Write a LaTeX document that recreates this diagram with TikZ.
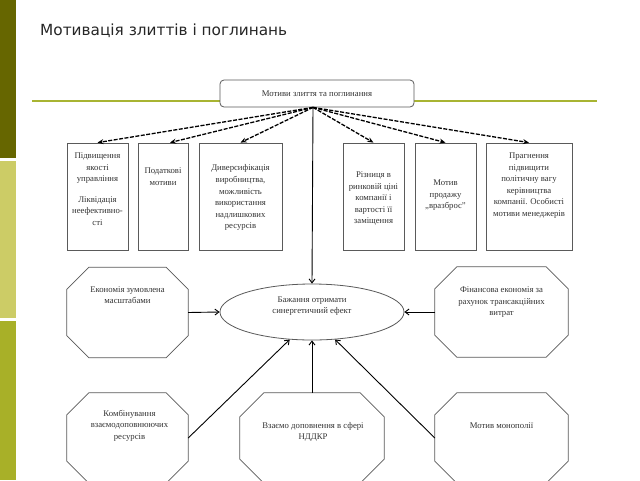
\documentclass[tikz,border=0pt]{standalone}
\usepackage{fontspec}
\setmainfont{Liberation Serif}
\newfontfamily\titlefont{DejaVu Sans}
\usetikzlibrary{arrows.meta,calc,shapes.geometric}
\definecolor{barA}{RGB}{102,102,0}
\definecolor{barB}{RGB}{204,204,102}
\definecolor{barC}{RGB}{168,176,40}
\definecolor{hcol}{RGB}{168,180,50}
\definecolor{edge}{RGB}{90,90,90}
\newcommand\octa[2]{%
  \draw[octline] ($(#1.north west)+(#2,0)$) -- ($(#1.north east)+(-#2,0)$)
   -- ($(#1.north east)+(0,-#2)$) -- ($(#1.south east)+(0,#2)$)
   -- ($(#1.south east)+(-#2,0)$) -- ($(#1.south west)+(#2,0)$)
   -- ($(#1.south west)+(0,#2)$) -- ($(#1.north west)+(0,-#2)$) -- cycle;}
\begin{document}
\begin{tikzpicture}[x=1pt,y=-1pt,
  boxst/.style={draw=edge, line width=0.8pt, fill=white, minimum height=107pt, inner sep=0pt},
  txt/.style={font=\fontsize{8.7}{11.6}\selectfont, align=center, inner sep=0pt, anchor=north, text=black!80},
  topbox/.style={draw=edge, line width=0.8pt, fill=white, rounded corners=4pt, minimum width=194pt, minimum height=27pt, inner sep=0pt, font=\fontsize{8.7}{10}\selectfont, text=black!80},
  octnode/.style={inner sep=0pt, minimum height=90pt},
  octline/.style={draw=edge, line width=0.8pt},
  ellst/.style={ellipse, draw=edge, line width=0.8pt, minimum width=184pt, minimum height=56pt, inner sep=0pt, align=center, font=\fontsize{8.7}{11.6}\selectfont, text=black!80},
  dasharrow/.style={draw=black, line width=1.3pt, dash pattern=on 4pt off 1.5pt, -{Stealth[length=6pt,width=5pt]}},
  solidarrow/.style={draw=black, line width=0.9pt, -{Straight Barb[length=4pt,width=6pt]}},
  hline/.style={draw=hcol, line width=1.8pt}
]
\useasboundingbox (0,0) rectangle (640,480);
\clip (0,0) rectangle (640,480);
\fill[white] (0,0) rectangle (640,480);
% left bar
\fill[barA] (0,0) rectangle (16,158);
\fill[barB] (0,161) rectangle (16,318);
\fill[barC] (0,321) rectangle (16,480);
% title
\node[anchor=base west, inner sep=0pt, font=\titlefont\fontsize{15.3}{18}\selectfont, text=black!85] (title) at (40,35.5) {Мотивація злиттів і поглинань};
% horizontal rule
\draw[hline] (32,101) -- (597,101);
% top box
\node[topbox] (top) at (317,93.5) {Мотиви злиття та поглинання};
\coordinate (hub) at ($(top.south)+(-4pt,0)$);
% motive boxes
\node[boxst, minimum width=61pt] (b1) at (97.5,196.5) {};
\node[boxst, minimum width=50pt] (b2) at (163,196.5) {};
\node[boxst, minimum width=83pt] (b3) at (240.5,196.5) {};
\node[boxst, minimum width=61pt] (b4) at (373.5,196.5) {};
\node[boxst, minimum width=61pt] (b5) at (445.5,196.5) {};
\node[boxst, minimum width=86pt] (b6) at (529,196.5) {};
\node[txt] (t1) at ($(b1.north)+(0,-10pt)$) {Підвищення\\якості\\управління\\[9pt]Ліквідація\\неефективно-\\сті};
\node[txt] (t2) at ($(b2.north)+(0,-25pt)$) {Податкові\\мотиви};
\node[txt] (t3) at ($(b3.north)+(0,-22pt)$) {Диверсифікація\\виробництва,\\можливість\\використання\\надлишкових\\ресурсів};
\node[txt] (t4) at ($(b4.north)+(0,-29pt)$) {Різниця в\\ринковій ціні\\компанії і\\вартості її\\заміщення};
\node[txt] (t5) at ($(b5.north)+(0,-37pt)$) {Мотив\\продажу\\„вразброс”};
\node[txt] (t6) at ($(b6.north)+(0,-10pt)$) {Прагнення\\підвищити\\політичну вагу\\керівництва\\компанії. Особисті\\мотиви менеджерів};
% dashed arrows
\draw[dasharrow] (hub) -- (b1.north);
\draw[dasharrow] (hub) -- ($(b2.north)+(7pt,0)$);
\draw[dasharrow] (hub) -- (b3.north);
\draw[dasharrow] (hub) -- (b4.north);
\draw[dasharrow] (hub) -- (b5.north);
\draw[dasharrow] (hub) -- (b6.north);
% ellipse
\node[ellst] (ell) at (312,312) {Бажання отримати\\синергетичний ефект\\[2pt]};
% octagons
\node[octnode, minimum width=121pt] (o1) at (127.5,312.5) {};
\node[octnode, minimum width=133pt] (o2) at (501.5,312) {};
\node[octnode, minimum width=121pt] (o3) at (127.5,438) {};
\node[octnode, minimum width=144pt] (o4) at (312,438) {};
\node[octnode, minimum width=133pt] (o5) at (501.5,438) {};
\octa{o1}{22pt}
\octa{o2}{22pt}
\octa{o3}{22pt}
\octa{o4}{24pt}
\octa{o5}{22pt}
\node[txt] (l1) at ($(o1.north)+(0,-19pt)$) {Економія зумовлена\\масштабами};
\node[txt] (l2) at ($(o2.north)+(0,-20pt)$) {Фінансова економія за\\рахунок трансакційних\\витрат};
\node[txt] (l3) at ($(o3.north)+(2pt,-17pt)$) {Комбінування\\взаємодоповнюючих\\ресурсів};
\node[txt] (l4) at ($(o4.north)+(1pt,-29pt)$) {Взаємо доповнення в сфері\\НДДКР};
\node[txt] (l5) at ($(o5.north)+(0,-30pt)$) {Мотив монополії};
% solid arrows to ellipse
\draw[solidarrow] (hub) -- (ell.north);
\draw[solidarrow] (o1.east) -- (ell.west);
\draw[solidarrow] (o2.west) -- (ell.east);
\draw[solidarrow] (o3.east) -- (ell.231);
\draw[solidarrow] (o4.north) -- (ell.south);
\draw[solidarrow] (o5.west) -- (ell.-50);
\end{tikzpicture}
\end{document}
